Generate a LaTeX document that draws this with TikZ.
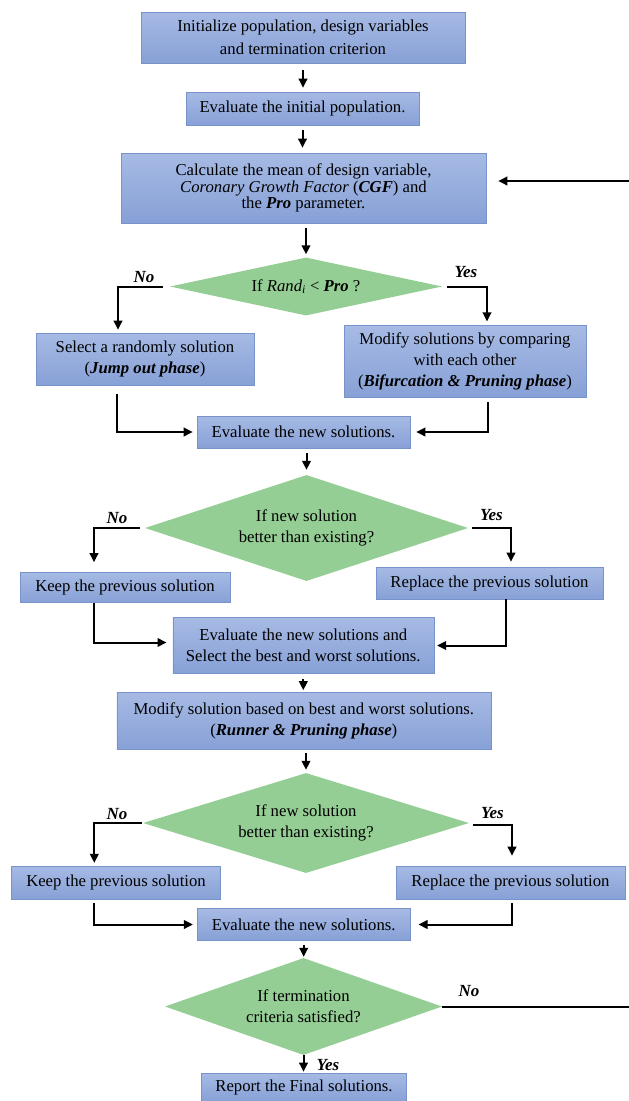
\documentclass[tikz,border=0pt]{standalone}
\usepackage{fontspec}
\setmainfont{Liberation Serif}
\usetikzlibrary{shapes.geometric, arrows.meta}
\definecolor{box-top}{HTML}{A6BAE4}
\definecolor{box-bottom}{HTML}{87A0D6}
\definecolor{box-edge}{HTML}{7893CA}
\definecolor{cond-green}{HTML}{95CE95}
\newcommand{\bfit}[1]{\textbf{\textit{#1}}}

\begin{document}
\begin{tikzpicture}[x=1pt, y=-1pt,
    box/.style={draw=box-edge, line width=0.6pt, top color=box-top,
                bottom color=box-bottom, align=center, inner sep=2pt,
                font=\fontsize{16.7}{21}\selectfont},
    cond/.style={diamond, fill=cond-green, align=center, inner sep=0pt,
                 font=\fontsize{16.7}{21}\selectfont},
    flow/.style={line width=2pt, -{Triangle[length=9pt, width=8.5pt]}},
    yesno/.style={font=\fontsize{17}{20}\selectfont\bfseries\itshape}]
    % Diagram: main column at x ~ 305, side branches left and right.
    % Coordinates in px of the 629 x 1101 page, y grows downward.
    %   loop back: from (629,1006) at the end test to (629,181) at calc box
    \useasboundingbox (0,0) rectangle (629,1101);

    \node[box, minimum width=324pt, minimum height=51pt,
          font=\fontsize{16.7}{23}\selectfont] (init) at (303,37.5)
          {Initialize population, design variables\\and termination criterion};
    \node[box, minimum width=233pt, minimum height=33pt] (evalinit) at (302.5,108.5)
          {Evaluate the initial population.};
    \node[box, minimum width=365pt, minimum height=70pt,
          font=\fontsize{16.7}{16.5}\selectfont] (calc) at (303.5,188)
          {Calculate the mean of design variable,\\
           \textit{Coronary Growth Factor} (\bfit{CGF}) and\\
           the \bfit{Pro} parameter.};
    \node[cond, minimum width=272pt, minimum height=58pt, aspect=4.7] (randpro) at (306,286.5)
          {If \textit{Rand}\textsubscript{\textit{i}} < \bfit{Pro} ?};
    \node[box, minimum width=218pt, minimum height=52pt] (jump) at (145,359)
          {Select a randomly solution\\(\bfit{Jump out phase})};
    \node[box, minimum width=242pt, minimum height=72pt] (bifur) at (465,361.7)
          {Modify solutions by comparing\\with each other\\(\bfit{Bifurcation \& Pruning phase})};
    \node[box, minimum width=213pt, minimum height=32pt] (evalA) at (303.5,432)
          {Evaluate the new solutions.};

    \node[cond, minimum width=323pt, minimum height=106pt, aspect=3] (betterA) at (306.5,528)
          {If new solution\\better than existing?};
    \node[box, minimum width=210pt, minimum height=30pt] (keepA) at (125,587.5)
          {Keep the previous solution};
    \node[box, minimum width=227pt, minimum height=32pt] (replA) at (489.5,583)
          {Replace the previous solution};
    \node[box, minimum width=261pt, minimum height=56pt] (evalB) at (303.3,645.5)
          {Evaluate the new solutions and\\Select the best and worst solutions.};
    \node[box, minimum width=374pt, minimum height=57pt] (runner) at (303.8,721)
          {Modify solution based on best and worst solutions.\\(\bfit{Runner \& Pruning phase})};

    \node[cond, minimum width=326pt, minimum height=100pt, aspect=3.2] (betterB) at (306,823)
          {If new solution\\better than existing?};
    \node[box, minimum width=209pt, minimum height=33pt] (keepB) at (116,882.7)
          {Keep the previous solution};
    \node[box, minimum width=229pt, minimum height=33pt] (replB) at (510.5,882.5)
          {Replace the previous solution};
    \node[box, minimum width=213pt, minimum height=32pt] (evalC) at (303.7,924.5)
          {Evaluate the new solutions.};
    \node[cond, minimum width=277pt, minimum height=97pt, aspect=2.9] (stop) at (303.5,1006.5)
          {If termination\\criteria satisfied?};
    \node[box, minimum width=205pt, minimum height=28pt] (report) at (304,1087)
          {Report the Final solutions.};

    % branch labels
    \node[yesno] (noA) at (144,277) {No};
    \node[yesno] (yesA) at (466,272) {Yes};
    \node[yesno] (noB) at (117,518) {No};
    \node[yesno] (yesB) at (491.5,515.5) {Yes};
    \node[yesno] (noC) at (117,814) {No};
    \node[yesno] (yesC) at (492.5,813) {Yes};
    \node[yesno] (noD) at (469,991) {No};
    \node[yesno] (yesD) at (328,1065) {Yes};

    % main column
    \draw[flow, shorten <=7pt, shorten >=4pt] (init.south) -- (init.south |- evalinit.north);
    \draw[flow, shorten <=5pt, shorten >=5pt] (evalinit.south) -- (evalinit.south |- calc.north);
    \draw[flow, shorten <=5pt, shorten >=3pt] (calc.south -| randpro.north) -- (randpro.north);
    \draw[flow, shorten <=5pt, shorten >=5pt] (evalA.south -| betterA.north) -- (betterA.north);
    \draw[flow, shorten <=5pt, shorten >=2pt] (evalB.south) -- (evalB.south |- runner.north);
    \draw[flow, shorten <=3pt, shorten >=3pt] (runner.south -| betterB.north) -- (betterB.north);
    \draw[flow, shorten <=4pt, shorten >=1pt] (evalC.south) -- (evalC.south |- stop.north);
    \draw[flow, shorten >=1pt] (stop.south) -- (stop.south |- report.north);

    % side branches
    \draw[flow, shorten <=7pt, shorten >=3pt] (randpro.west) -| ([xshift=-27pt]jump.north);
    \draw[flow, shorten <=5pt, shorten >=4pt] (randpro.east) -| ([xshift=22pt]bifur.north);
    \draw[flow, shorten <=9pt, shorten >=4pt] ([xshift=-28pt]jump.south) |- (evalA.west);
    \draw[flow, shorten <=4pt, shorten >=6pt] ([xshift=23pt]bifur.south) |- (evalA.east);
    \draw[flow, shorten <=5pt, shorten >=10pt] (betterA.west) -| ([xshift=-31pt]keepA.north);
    \draw[flow, shorten <=4pt, shorten >=5pt] (betterA.east) -| ([xshift=21.5pt]replA.north);
    \draw[flow, shorten >=6pt] ([xshift=-31pt]keepA.south) |- ([yshift=3pt]evalB.west);
    \draw[flow, shorten >=3pt] ([xshift=16.5pt]replA.south) |- (evalB.east);
    \draw[flow, shorten <=1pt, shorten >=3pt] (betterB.west) -| ([xshift=-21.7pt]keepB.north);
    \draw[flow, shorten <=4pt, shorten >=10pt] ([yshift=-2pt]betterB.east) -| ([xshift=1.5pt]replB.north);
    \draw[flow, shorten <=3pt, shorten >=4pt] ([xshift=-21.7pt]keepB.south) |- (evalC.west);
    \draw[flow, shorten <=4pt, shorten >=8pt] ([xshift=1.5pt]replB.south) |- (evalC.east);

    % loop back, runs off the right edge
    \coordinate (loopout) at (629,1006.5);
    \coordinate (loopin) at (629,181);
    \draw[line width=2pt] (stop.east) -- (loopout);
    \draw[flow, shorten >=12pt] (loopin) -- (calc.east |- loopin);
\end{tikzpicture}
\end{document}
